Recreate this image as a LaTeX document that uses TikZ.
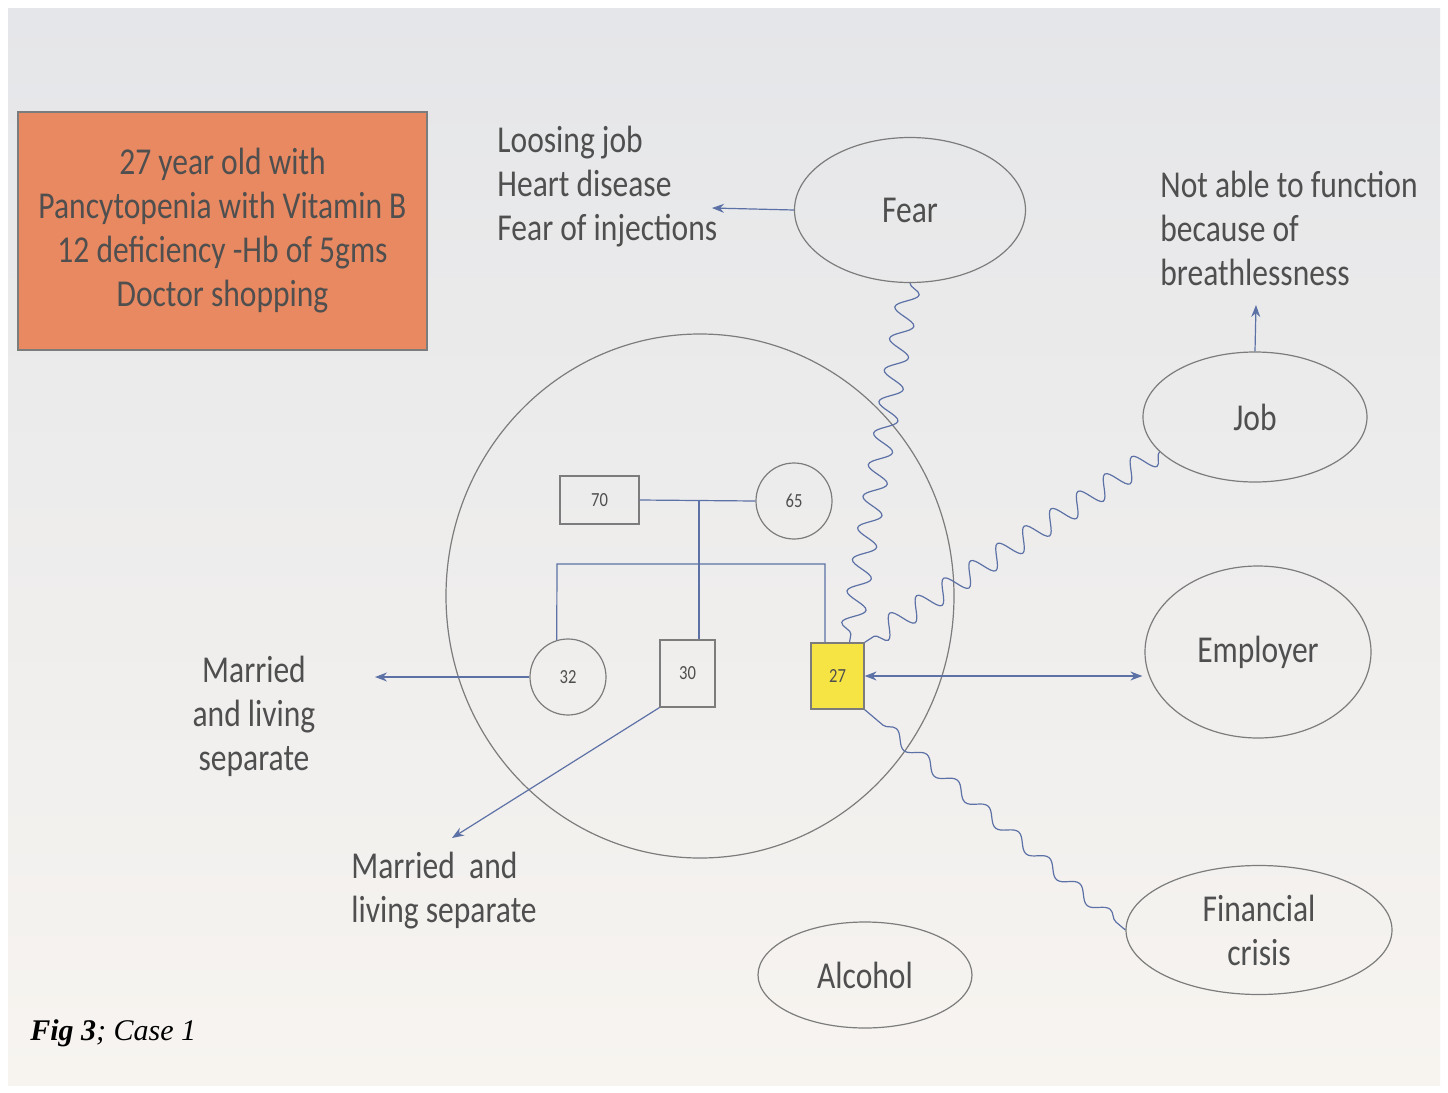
\documentclass[tikz,border=0pt]{standalone}
\usepackage{fontspec}
\setmainfont{Carlito}[FakeStretch=0.83]
\newfontfamily\capfont{Liberation Serif}
\usetikzlibrary{shapes.geometric,decorations.pathmorphing,arrows.meta}
\definecolor{txt}{HTML}{4F4F4F}
\definecolor{edge}{HTML}{7C7C7C}
\definecolor{conn}{HTML}{5C71A6}
\definecolor{orangebox}{HTML}{E98961}
\definecolor{yel}{HTML}{F6E444}
\begin{document}
\begin{tikzpicture}[x=0.5pt,y=-0.5pt,
  lbl/.style={text=txt,font=\fontsize{19}{22}\selectfont,inner sep=0pt},
  ell/.style={draw=edge,line width=0.6pt,ellipse,inner sep=0pt,text=txt,font=\fontsize{19}{22}\selectfont},
  gsq/.style={draw=edge,line width=0.6pt,rectangle,inner sep=0pt,text=txt,font=\fontsize{10}{12}\selectfont},
  gcir/.style={draw=edge,line width=0.6pt,circle,inner sep=0pt,minimum size=38pt,text=txt,font=\fontsize{10}{12}\selectfont},
  gline/.style={draw=conn,line width=0.6pt},
  arr/.style={draw=conn,line width=0.6pt,-{Stealth[length=6pt,width=4.5pt]}},
  darr/.style={draw=conn,line width=0.6pt,{Stealth[length=6pt,width=4.5pt]}-{Stealth[length=6pt,width=4.5pt]}},
  wavy/.style={draw=conn,line width=0.6pt,decorate,decoration={snake,amplitude=5.5pt,segment length=16pt}}]
\useasboundingbox (0,0) rectangle (1448,1093);
\fill[white] (0,0) rectangle (1448,1093);
\shade[top color={rgb,255:red,229;green,230;blue,233},bottom color={rgb,255:red,247;green,244;blue,240}] (8,8) rectangle (1440,1085);

% case box
\node[draw=edge,line width=0.6pt,fill=orangebox,minimum width=204.5pt,minimum height=119pt,align=center,lbl,inner sep=0pt] (case) at (222.5,231) {27 year old with\\Pancytopenia with Vitamin B\\12 deficiency -Hb of 5gms\\Doctor shopping};

% satellites
\node[ell,minimum width=115.5pt,minimum height=72.5pt] (fear) at (910,210) {Fear};
\node[ell,minimum width=112pt,minimum height=65pt] (job) at (1255,417) {Job};
\node[ell,minimum width=113pt,minimum height=86pt] (emp) at (1258,652) {Employer};
\node[ell,minimum width=133pt,minimum height=64.5pt,align=center] (fin) at (1259,930) {Financial\\crisis};
\node[ell,minimum width=107pt,minimum height=53pt] (alc) at (865,975) {Alcohol};

\node[lbl,anchor=west,align=left] (fearlist) at (497,187) {Loosing job\\Heart disease\\Fear of injections};
\node[lbl,anchor=west,align=left] (joblist) at (1160,228) {Not able to function\\because of\\breathlessness};

% family circle
\node[draw=edge,line width=0.6pt,ellipse,minimum width=254pt,minimum height=262pt,inner sep=0pt] (fam) at (700,596) {};

% genogram
\node[gsq,minimum width=39.5pt,minimum height=24pt] (g70) at (599.5,500) {70};
\node[gcir] (g65) at (794,501) {65};
\node[gcir] (g32) at (568,677) {32};
\node[gsq,minimum width=27.5pt,minimum height=33.5pt] (g30) at (687.5,673.5) {30};
\node[gsq,fill=yel,minimum width=26.5pt,minimum height=33pt] (g27) at (837.5,676) {27};

\coordinate (mid) at (699,501);
\coordinate (sl) at (557,564);
\coordinate (sr) at (825,564);
\draw[gline] (g70.east) -- (g65.west);
\draw[gline] (mid) -- ([xshift=5.75pt]g30.north);
\draw[gline] (g32.107) -- (sl) -- (sr) -- ([xshift=-6.25pt]g27.north);

% labels for siblings
\node[lbl,align=center] (sep32) at (254,716) {Married\\and living\\separate};
\node[lbl,anchor=north west,align=left] (sep30) at (351,852) {Married\ \ and\\living separate};

% arrows
\coordinate (a32) at (375,677);
\coordinate (a30) at (452,838);
\coordinate (afear) at (712,208);
\coordinate (ajob) at (1256,305);
\draw[arr] (g32.west) -- (a32);
\draw[arr] (g30.south west) -- (a30);
\draw[arr] (fear.west) -- (afear);
\draw[arr] (job.north) -- (ajob);
\draw[darr,shorten >=1pt] (g27.east) -- (g27.east -| emp.west);

% wavy connectors
\draw[wavy] (fear.south) -- ([xshift=6pt]g27.north);
\draw[wavy] (job.200) -- (g27.north east);
\draw[draw=conn,line width=0.6pt,decorate,decoration={snake,amplitude=3pt,segment length=20pt,pre length=12pt,post length=4pt}] (g27.south east) -- (fin.west);

% caption
\node[anchor=west,inner sep=0pt,font=\capfont\fontsize{15}{18}\selectfont] (cap) at (30,1033) {\textbf{\itshape Fig 3}\textit{; Case 1}};
\end{tikzpicture}
\end{document}
